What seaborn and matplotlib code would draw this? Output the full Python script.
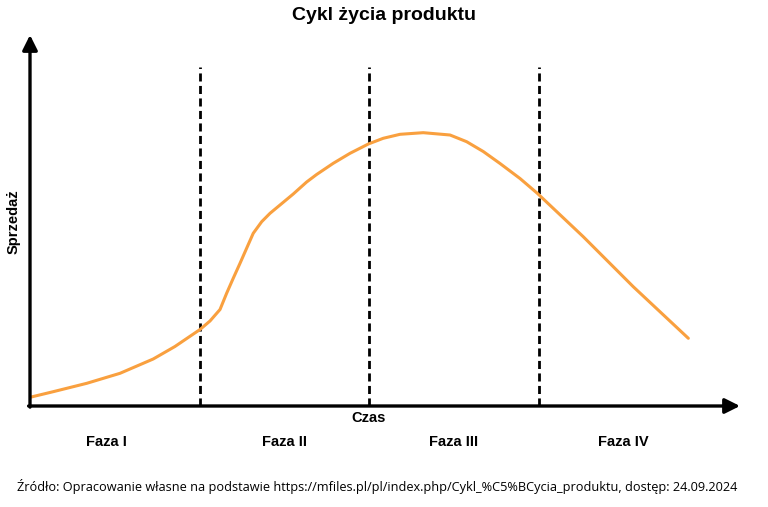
import matplotlib
matplotlib.use("Agg")
import matplotlib.pyplot as plt
import matplotlib.transforms as mtransforms
import seaborn as sns
import pandas as pd

# ---- data ----
czas = [0.000, 0.137, 0.335, 0.531, 0.727, 0.855, 1.003, 1.062, 1.121, 1.160,
        1.199, 1.239, 1.278, 1.317, 1.367, 1.416, 1.475, 1.553, 1.632, 1.691,
        1.789, 1.888, 1.996, 2.084, 2.183, 2.320, 2.478, 2.576, 2.674, 2.773,
        2.891, 2.993, 3.264, 3.559, 3.884]
sprzedaz = [2.36, 3.88, 6.15, 8.86, 12.74, 16.12, 20.73, 23.04, 26.15, 30.54,
            34.61, 38.67, 42.74, 46.80, 49.95, 52.22, 54.47, 57.45, 60.70, 62.74,
            65.77, 68.48, 71.00, 72.55, 73.63, 74.07, 73.44, 71.63, 68.97, 65.72,
            61.65, 57.64, 45.88, 32.33, 18.35]
granice_faz = [1, 2, 3]
faza_etykiety = ["Faza I", "Faza II", "Faza III", "Faza IV"]
faza_srodki = [0.45, 1.5, 2.5, 3.5]
tytul = "Cykl życia produktu"
os_x = "Czas"
os_y = "Sprzedaż"
zrodlo = ("Źródło: Opracowanie własne na podstawie "
          "https://mfiles.pl/pl/index.php/Cykl_%C5%BCycia_produktu, dostęp: 24.09.2024")

sns.set_theme(style="white")
plt.rcParams["font.family"] = ["Liberation Sans", "DejaVu Sans"]
plt.rcParams["text.color"] = "black"

W, H = 768, 507
fig = plt.figure(figsize=(W / 100, H / 100), dpi=100)
x0, x1, ytop, ybot = 30, 740, 35, 406
ax = fig.add_axes([x0 / W, 1 - ybot / H, (x1 - x0) / W, (ybot - ytop) / H])
ax.set_xlim(0, (x1 - x0) / 169.5)
ax.set_ylim(0, (ybot - ytop) / 3.69)

df = pd.DataFrame({"czas": czas, "sprzedaz": sprzedaz})
sns.lineplot(data=df, x="czas", y="sprzedaz", sort=False, estimator=None,
             color="#F9A03F", linewidth=2.2, ax=ax)
for ln in ax.lines:
    ln.set_solid_joinstyle("round")
    ln.set_solid_capstyle("round")

for g in granice_faz:
    ax.plot([g, g], [0, (ybot - 67) / 3.69], color="black", lw=2.0,
            dashes=(2.9, 1.6), solid_capstyle="butt", zorder=1)

for s in ax.spines.values():
    s.set_visible(False)
ax.set_xticks([])
ax.set_yticks([])
ax.set_xlabel("")
ax.set_ylabel("")

arrow = dict(arrowstyle="-|>,head_length=0.9,head_width=0.45", lw=2.4, color="black",
             shrinkA=0, shrinkB=0, mutation_scale=10)
ax.annotate("", xy=(1, 0), xytext=(-0.002, 0), xycoords="axes fraction",
            arrowprops=arrow, annotation_clip=False)
ax.annotate("", xy=(0, 1), xytext=(0, -0.003), xycoords="axes fraction",
            arrowprops=arrow, annotation_clip=False)

fig.text(384 / W, 1 - 15 / H, tytul, ha="center", va="center", fontsize=14,
         fontweight="bold")
fig.text(369 / W, 1 - 418 / H, os_x, ha="center", va="center", fontsize=10.5,
         fontweight="bold")
fig.text(14 / W, 1 - 222 / H, os_y, ha="center", va="center", fontsize=10.5,
         fontweight="bold", rotation=90)
trans = mtransforms.blended_transform_factory(ax.transData, fig.transFigure)
for xm, lab in zip(faza_srodki, faza_etykiety):
    ax.text(xm, 1 - 442 / H, lab, transform=trans, ha="center", va="center",
            fontsize=10.5, fontweight="bold")
fig.text(377 / W, 1 - 487 / H, zrodlo, ha="center", va="center", fontsize=9.2,
         family=["Open Sans", "DejaVu Sans"])

fig.savefig("out.png", dpi=100, facecolor="white")
